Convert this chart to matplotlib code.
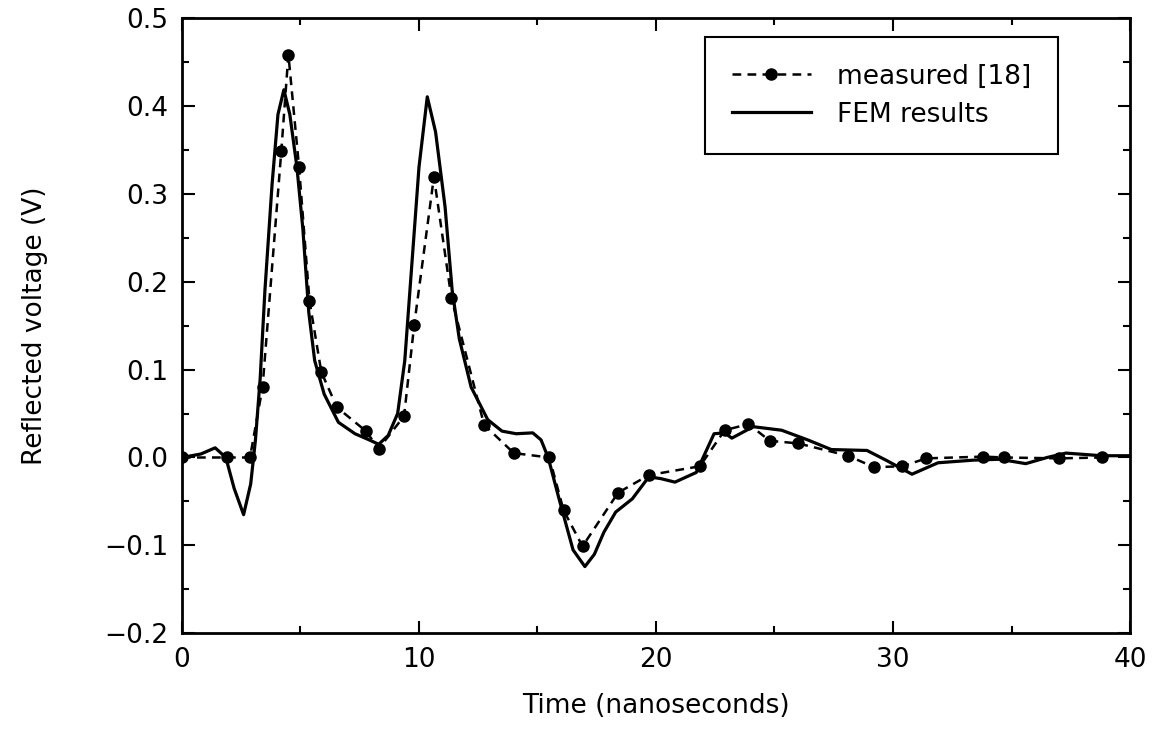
import numpy as np
import matplotlib
matplotlib.use("Agg")
from matplotlib import pyplot as plt
from matplotlib.ticker import MultipleLocator, FuncFormatter

# measured reflected voltage (dots joined by dashes)
meas_t = [0.0, 1.9, 2.87, 3.4, 4.19, 4.49, 4.94, 5.38, 5.88, 6.54, 7.76, 8.3,
          9.37, 9.8, 10.63, 11.37, 12.75, 14.0, 15.5, 16.1, 16.9, 18.4, 19.7,
          21.85, 22.9, 23.9, 24.8, 26.0, 28.1, 29.2, 30.4, 31.4, 33.8, 34.7,
          37.0, 38.8]
meas_v = [0.0, 0.0, 0.0, 0.08, 0.348, 0.458, 0.33, 0.178, 0.097, 0.057, 0.03, 0.01,
          0.047, 0.151, 0.319, 0.181, 0.037, 0.005, 0.0, -0.06, -0.101, -0.04, -0.02,
          -0.01, 0.031, 0.038, 0.019, 0.016, 0.002, -0.011, -0.01, -0.001, 0.001, 0.0,
          -0.001, 0.0]

# FEM result (solid)
fem_t = [0.0, 0.8, 1.4, 1.85, 2.2, 2.6, 2.9, 3.1, 3.3, 3.5, 3.8, 4.05, 4.3, 4.55,
         4.85, 5.1, 5.35, 5.6, 6.0, 6.6, 7.3, 7.9, 8.3, 8.7, 9.1, 9.4, 9.7, 10.0,
         10.35, 10.7, 11.1, 11.4, 11.7, 12.2, 12.9, 13.5, 14.1, 14.8, 15.15, 15.45,
         15.9, 16.5, 17.0, 17.4, 17.8, 18.3, 19.0, 19.7, 20.2, 20.8, 21.7, 22.45,
         22.9, 23.2, 24.1, 25.3, 26.4, 27.4, 28.9, 29.7, 30.8, 31.9, 33.4, 34.5,
         35.6, 36.5, 37.3, 38.8, 40.0]
fem_v = [0.0, 0.004, 0.011, 0.0, -0.035, -0.065, -0.03, 0.02, 0.09, 0.19, 0.31, 0.39,
         0.418, 0.39, 0.33, 0.26, 0.165, 0.11, 0.072, 0.04, 0.027, 0.02, 0.015, 0.025,
         0.05, 0.11, 0.22, 0.33, 0.41, 0.37, 0.285, 0.19, 0.135, 0.08, 0.043, 0.03,
         0.027, 0.028, 0.02, 0.0, -0.046, -0.105, -0.124, -0.11, -0.085, -0.062,
         -0.047, -0.022, -0.024, -0.028, -0.017, 0.027, 0.028, 0.022, 0.035, 0.031,
         0.02, 0.009, 0.008, -0.003, -0.019, -0.006, -0.003, -0.002, -0.007, 0.0,
         0.005, 0.002, 0.002]

fig = plt.figure(figsize=(11.71, 7.34), dpi=100)
ax = fig.add_axes([0.1554, 0.137, 0.8096, 0.839])

ax.plot(meas_t, meas_v, color="black", linestyle=(0, (3.5, 2.5)), linewidth=1.8,
        marker="o", markersize=8, label="measured [18]")
ax.plot(fem_t, fem_v, color="black", linewidth=2.3, label="FEM results")

ax.set_xlim(0, 40)
ax.set_ylim(-0.2, 0.5)
ax.xaxis.set_major_locator(MultipleLocator(10))
ax.xaxis.set_minor_locator(MultipleLocator(5))
ax.yaxis.set_major_locator(MultipleLocator(0.1))
ax.yaxis.set_minor_locator(MultipleLocator(0.05))
ax.yaxis.set_major_formatter(FuncFormatter(lambda v, p: f"{v:.1f}".replace("-", "\u2212")))
ax.tick_params(which="both", direction="in", top=True, right=True, labelsize=19,
               width=1.5)
ax.tick_params(which="major", length=9, pad=10)
ax.tick_params(which="minor", length=5)
for s in ax.spines.values():
    s.set_linewidth(2)

ax.set_xlabel("Time (nanoseconds)", fontsize=19, labelpad=14)
ax.set_ylabel("Reflected voltage (V)", fontsize=19, labelpad=40)

leg = ax.legend(loc="upper right", bbox_to_anchor=(0.924, 0.968), borderaxespad=0,
                fontsize=19, handlelength=3.0, fancybox=False, framealpha=1,
                edgecolor="black", numpoints=1, borderpad=1.0, labelspacing=0.45,
                handletextpad=1.0)
leg.get_frame().set_linewidth(1.5)

fig.savefig("out.png", dpi=100)
